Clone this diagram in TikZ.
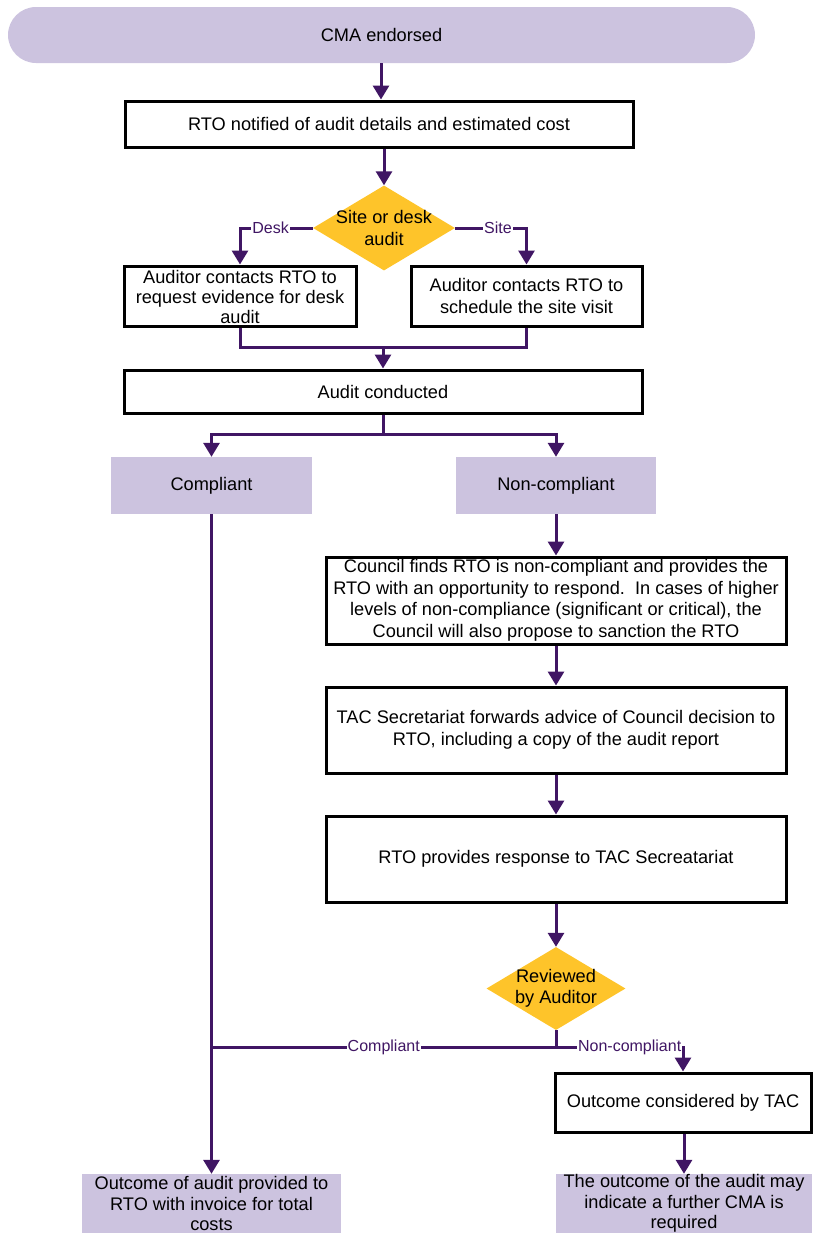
\documentclass[tikz,border=0pt]{standalone}
\usepackage{fontspec}
\setmainfont{Liberation Sans}
\usetikzlibrary{shapes.geometric,arrows.meta}
\definecolor{lineC}{RGB}{64,22,100}
\definecolor{lavC}{RGB}{204,195,223}
\definecolor{goldC}{RGB}{254,196,42}
\tikzset{
  conn/.style={draw=lineC, line width=3pt},
  arr/.style={conn, -{Triangle[length=14pt,width=16pt]}},
  frame/.style={draw=black, line width=3pt, fill=white, inner sep=0pt},
  lav/.style={fill=lavC, inner sep=0pt},
  dec/.style={diamond, fill=goldC, inner sep=0pt},
  txt/.style={font=\fontsize{18.2}{21.5}\selectfont, align=center, inner sep=0pt},
  lbl/.style={font=\fontsize{16}{18}\selectfont, text=lineC, fill=white, inner sep=1pt}
}
\begin{document}
\begin{tikzpicture}[x=1pt,y=-1pt]
\useasboundingbox (0,0) rectangle (813,1235);
% nodes
\node[lav, rounded corners=28pt, minimum width=747pt, minimum height=56pt] (start) at (381.5,35) {};
\node[txt] (startT) at (start) {CMA endorsed};
\node[frame, minimum width=508pt, minimum height=46pt] (notif) at (379,124) {};
\node[txt] (notifT) at (notif) {RTO notified of audit details and estimated cost};
\node[dec, minimum width=142pt, minimum height=85pt] (d1) at (384,228) {};
\node[txt] (d1T) at (d1) {Site or desk\\audit};
\node[frame, minimum width=232pt, minimum height=60pt] (desk) at (240,296) {};
\node[txt, font=\fontsize{18.2}{20}\selectfont] (deskT) at (240,297) {Auditor contacts RTO to\\request evidence for desk\\audit};
\node[frame, minimum width=231pt, minimum height=60pt] (site) at (526.5,296) {};
\node[txt] (siteT) at (site) {Auditor contacts RTO to\\schedule the site visit};
\node[frame, minimum width=518pt, minimum height=43pt] (audit) at (383,391.5) {};
\node[txt] (auditT) at (audit) {Audit conducted};
\node[lav, minimum width=201pt, minimum height=57pt] (comp) at (211.5,485.5) {};
\node[txt] (compT) at (comp) {Compliant};
\node[lav, minimum width=200pt, minimum height=57pt] (nonc) at (556,485.5) {};
\node[txt] (noncT) at (nonc) {Non-compliant};
\node[frame, minimum width=460pt, minimum height=87pt] (council) at (556,600.5) {};
\node[txt] (councilT) at (council) {Council finds RTO is non-compliant and provides the\\RTO with an opportunity to respond.\ \ In cases of higher\\levels of non-compliance (significant or critical), the\\Council will also propose to sanction the RTO};
\node[frame, minimum width=460pt, minimum height=86pt] (tac) at (556,730) {};
\node[txt] (tacT) at (tac) {TAC Secretariat forwards advice of Council decision to\\RTO, including a copy of the audit report};
\node[frame, minimum width=460pt, minimum height=86pt] (resp) at (556,859) {};
\node[txt] (respT) at (resp) {RTO provides response to TAC Secreatariat};
\node[dec, minimum width=139pt, minimum height=83pt] (d2) at (556,988.5) {};
\node[txt] (d2T) at (d2) {Reviewed\\by Auditor};
\node[frame, minimum width=256pt, minimum height=59pt] (tacout) at (683,1102.5) {};
\node[txt] (tacoutT) at (tacout) {Outcome considered by TAC};
\node[lav, minimum width=259pt, minimum height=59pt] (finL) at (211.5,1203.5) {};
\node[txt, font=\fontsize{18.2}{20.5}\selectfont] (finLT) at (finL) {Outcome of audit provided to\\RTO with invoice for total\\costs};
\node[lav, minimum width=256pt, minimum height=59pt] (finR) at (684,1203.5) {};
\node[txt, font=\fontsize{18.2}{20.5}\selectfont] (finRT) at (finR) {The outcome of the audit may\\indicate a further CMA is\\required};
% coordinates
\coordinate (mrg) at (383,347);
\coordinate (spl) at (383,434);
\coordinate (j2) at (556,1047);
% connectors
\draw[arr] (start.south -| 381,0) -- (381,0 |- notif.north);
\draw[arr] (notif.south -| d1.north) -- (d1.north);
\draw[arr] (d1.west) -| node[lbl, pos=0.29] (lDesk) {Desk} (desk.north);
\draw[arr] (d1.east) -| node[lbl, pos=0.3] (lSite) {Site} (site.north);
\draw[conn] (desk.south) |- (mrg) -| (site.south);
\draw[arr] (mrg) -- (mrg |- audit.north);
\draw[conn] (audit.south -| spl) -- (spl);
\draw[arr] (spl) -| (comp.north);
\draw[arr] (spl) -| (nonc.north);
\draw[arr] (nonc.south) -- (council.north);
\draw[arr] (council.south) -- (tac.north);
\draw[arr] (tac.south) -- (resp.north);
\draw[arr] (resp.south) -- (d2.north);
\draw[arr] (comp.south) -- (finL.north);
\draw[conn] (d2.south) -- (j2);
\draw[conn] (j2) -- node[lbl, pos=0.5] (lComp) {Compliant} (comp.south |- j2);
\draw[arr] (j2) -| node[lbl, pos=0.29] (lNon) {Non-compliant} (tacout.north);
\draw[arr] (tacout.south -| finR.north) -- (finR.north);
\end{tikzpicture}
\end{document}
